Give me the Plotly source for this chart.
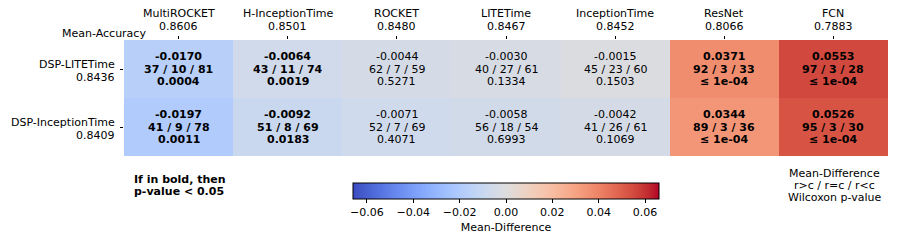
import plotly.graph_objects as go

# ---------------- data ----------------
columns = ["MultiROCKET", "H-InceptionTime", "ROCKET", "LITETime", "InceptionTime", "ResNet", "FCN"]
col_acc = [0.8606, 0.8501, 0.8480, 0.8467, 0.8452, 0.8066, 0.7883]
rows = ["DSP-LITETime", "DSP-InceptionTime"]
row_acc = [0.8436, 0.8409]
mean_diff = [
    [-0.0170, -0.0064, -0.0044, -0.0030, -0.0015, 0.0371, 0.0553],
    [-0.0197, -0.0092, -0.0071, -0.0058, -0.0042, 0.0344, 0.0526],
]
wins = [[37, 43, 62, 40, 45, 92, 97], [41, 51, 52, 56, 41, 89, 95]]
ties = [[10, 11, 7, 27, 23, 3, 3], [9, 8, 7, 18, 26, 3, 3]]
losses = [[81, 74, 59, 61, 60, 33, 28], [78, 69, 69, 54, 61, 36, 30]]
pvalues = [
    [0.0004, 0.0019, 0.5271, 0.1334, 0.1503, 0.00001, 0.00001],
    [0.0011, 0.0183, 0.4071, 0.6993, 0.1069, 0.00001, 0.00001],
]
zlim = 0.066

# matplotlib "coolwarm"
cw = [
    (59, 76, 192), (68, 90, 204), (77, 104, 215), (87, 117, 225), (98, 130, 234),
    (108, 142, 241), (119, 154, 247), (130, 165, 251), (141, 176, 254), (152, 185, 255),
    (163, 194, 255), (174, 201, 253), (184, 208, 249), (194, 213, 244), (204, 217, 238),
    (213, 219, 230), (221, 221, 221), (229, 216, 209), (236, 211, 197), (241, 204, 185),
    (245, 196, 173), (247, 187, 160), (247, 177, 148), (247, 166, 135), (244, 154, 123),
    (241, 141, 111), (236, 127, 99), (229, 112, 88), (222, 96, 77), (213, 80, 66),
    (203, 62, 56), (192, 40, 47), (180, 4, 38),
]
colorscale = [[i / (len(cw) - 1), "rgb(%d,%d,%d)" % c] for i, c in enumerate(cw)]

FONT = "DejaVu Sans"
FS = 11

fig = go.Figure(
    go.Heatmap(
        z=mean_diff,
        x=columns,
        y=rows,
        zmin=-zlim,
        zmax=zlim,
        colorscale=colorscale,
        hoverinfo="skip",
        colorbar=dict(
            orientation="h",
            x=0.5,
            xanchor="center",
            y=-0.235,
            yanchor="top",
            lenmode="pixels",
            len=306,
            thickness=16,
            xpad=0,
            ypad=0,
            outlinewidth=1,
            outlinecolor="black",
            ticks="outside",
            ticklen=3.5,
            tickcolor="black",
            tickvals=[-0.06, -0.04, -0.02, 0.0, 0.02, 0.04, 0.06],
            tickformat=".2f",
            tickfont=dict(family=FONT, size=FS, color="black"),
            title=dict(text="Mean-Difference", side="bottom",
                       font=dict(family=FONT, size=FS, color="black")),
        ),
    )
)

ann = []
# cell texts
for i, r in enumerate(rows):
    for j, c in enumerate(columns):
        p = pvalues[i][j]
        bold = p < 0.05
        ptxt = "≤ 1e-04" if p <= 1e-4 else f"{p:.4f}"
        lines = [f"{mean_diff[i][j]:.4f}", f"{wins[i][j]} / {ties[i][j]} / {losses[i][j]}", ptxt]
        for k, t in enumerate(lines):
            ann.append(dict(
                x=c, y=r, xref="x", yref="y", text=f"<b>{t}</b>" if bold else t,
                showarrow=False, yshift=12.7 * (1 - k), xanchor="center", yanchor="middle",
                font=dict(family=FONT, size=FS, color="black"),
            ))
# column header labels
for j, c in enumerate(columns):
    ann.append(dict(x=c, y=1, xref="x", yref="paper", text=c, showarrow=False,
                    yshift=26.7, yanchor="middle", font=dict(family=FONT, size=FS, color="black")))
    ann.append(dict(x=c, y=1, xref="x", yref="paper", text=f"{col_acc[j]:.4f}", showarrow=False,
                    yshift=14, yanchor="middle", font=dict(family=FONT, size=FS, color="black")))
ann.append(dict(x=0.0314, y=1, xref="paper", yref="paper", text="Mean-Accuracy", showarrow=False,
                xanchor="right", yanchor="middle", yshift=7,
                font=dict(family=FONT, size=FS, color="black")))
# row labels
for i, r in enumerate(rows):
    ann.append(dict(x=-0.0092, y=r, xref="paper", yref="y", text=r, showarrow=False,
                    xanchor="right", yanchor="middle", yshift=5,
                    font=dict(family=FONT, size=FS, color="black")))
    ann.append(dict(x=-0.0092, y=r, xref="paper", yref="y", text=f"{row_acc[i]:.4f}", showarrow=False,
                    xanchor="right", yanchor="middle", yshift=-8,
                    font=dict(family=FONT, size=FS, color="black")))
# bottom-left note
for k, t in enumerate(["If in bold, then", "p-value < 0.05"]):
    ann.append(dict(x=0.0100, y=0, xref="paper", yref="paper", text=f"<b>{t}</b>", showarrow=False,
                    xanchor="left", yanchor="middle", yshift=-23.3 - 12 * k,
                    font=dict(family=FONT, size=FS, color="black")))
# bottom-right legend
for k, t in enumerate(["Mean-Difference", "r&gt;c / r=c / r&lt;c", "Wilcoxon p-value"]):
    ann.append(dict(x=0.9306, y=0, xref="paper", yref="paper", text=t, showarrow=False,
                    xanchor="center", yanchor="middle", yshift=-17 - 12.4 * k, borderpad=0,
                    font=dict(family=FONT, size=FS, color="black")))

fig.update_layout(
    width=897,
    height=243,
    margin=dict(l=124, r=9, t=40, b=84),
    paper_bgcolor="white",
    plot_bgcolor="white",
    annotations=ann,
    font=dict(family=FONT, size=FS, color="black"),
)
fig.update_xaxes(side="top", ticks="outside", ticklen=3.5, tickcolor="black", tickwidth=1,
                 showticklabels=False, showgrid=False, zeroline=False, showline=False)
fig.update_yaxes(autorange="reversed", ticks="outside", ticklen=3.5, tickcolor="black", tickwidth=1,
                 showticklabels=False, showgrid=False, zeroline=False, showline=False)

fig.write_html("out.html", config={"displayModeBar": False},
               post_script="document.body.style.margin='0px';")
